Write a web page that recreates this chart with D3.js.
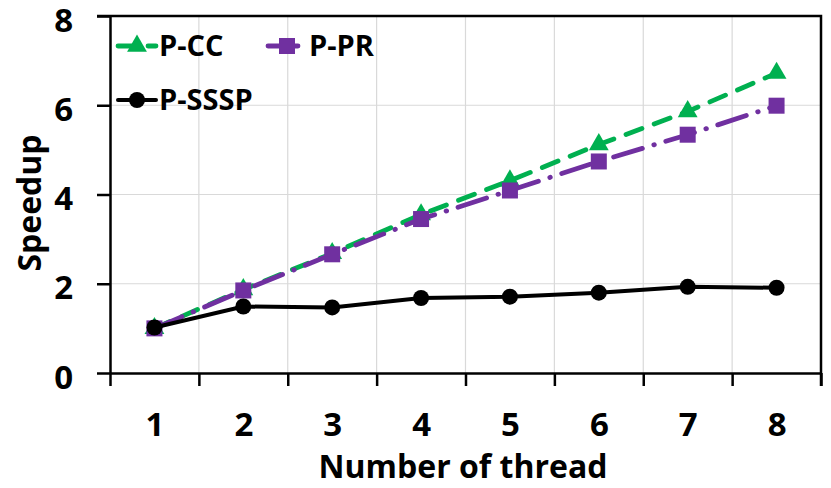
<!DOCTYPE html>
<html>
<head>
<meta charset="utf-8">
<script src="https://cdn.jsdelivr.net/npm/d3@7/dist/d3.min.js"></script>
<style>
  body { margin: 0; background: #fff; }
  svg text { font-family: "Open Sans", Lato, sans-serif; font-weight: bold; fill: #000; }
</style>
</head>
<body>
<div id="chart"></div>
<script>
// values
const threads = [1, 2, 3, 4, 5, 6, 7, 8];
const ccSpeedup = [1.0, 1.87, 2.68, 3.55, 4.31, 5.12, 5.86, 6.72];
const prSpeedup = [1.0, 1.85, 2.66, 3.45, 4.09, 4.74, 5.34, 5.99];
const ssspSpeedup = [1.02, 1.49, 1.47, 1.68, 1.71, 1.80, 1.93, 1.91];
const yTicks = [0, 2, 4, 6, 8];
const seriesNames = ["P-CC", "P-PR", "P-SSSP"];

const width = 831, height = 488;
const margin = { top: 16, right: 10, bottom: 115, left: 110 };

const svg = d3.select("#chart").append("svg")
  .attr("width", width)
  .attr("height", height);

const x = d3.scaleLinear()
  .domain([0.5, 8.5])
  .range([margin.left, width - margin.right]);
const y = d3.scaleLinear()
  .domain([0, 8])
  .range([height - margin.bottom, margin.top]);

const edges = d3.range(0.5, 9, 1);

// grid
svg.append("g")
  .selectAll("line")
  .data(edges.slice(1, -1))
  .join("line")
  .attr("x1", d => x(d)).attr("x2", d => x(d))
  .attr("y1", y(0)).attr("y2", y(8))
  .attr("stroke", "#d9d9d9").attr("stroke-width", 1.2);
svg.append("g")
  .selectAll("line")
  .data(yTicks.slice(1, -1))
  .join("line")
  .attr("x1", x(0.5)).attr("x2", x(8.5))
  .attr("y1", d => y(d)).attr("y2", d => y(d))
  .attr("stroke", "#d9d9d9").attr("stroke-width", 1.2);

// frame top/right
svg.append("path")
  .attr("d", `M${x(0.5) - 13},${y(8)}H${x(8.5)}V${y(0) + 13}`)
  .attr("fill", "none").attr("stroke", "#000").attr("stroke-width", 2.5);

// y axis
const yAxis = svg.append("g")
  .attr("transform", `translate(${x(0.5)},0)`)
  .call(d3.axisLeft(y).tickValues(yTicks).tickSize(13).tickPadding(24).tickSizeOuter(0));
yAxis.select(".domain").attr("stroke-width", 2.5);
yAxis.selectAll(".tick line").attr("stroke-width", 2.5);
yAxis.selectAll("text").style("font-size", "33px").attr("dy", "0.46em");

// x axis: ticks at category edges, labels at centres
const xAxis = svg.append("g")
  .attr("transform", `translate(0,${y(0)})`)
  .call(d3.axisBottom(x).tickValues(edges).tickSize(13).tickFormat("").tickSizeOuter(0));
xAxis.select(".domain").attr("stroke-width", 2.5);
xAxis.selectAll(".tick line").attr("stroke-width", 2.5);

const xLabels = svg.append("g")
  .attr("transform", `translate(0,${y(0)})`)
  .call(d3.axisBottom(x).tickValues(threads).tickSize(0).tickPadding(40));
xLabels.select(".domain").remove();
xLabels.selectAll("text").style("font-size", "33px");

// axis titles
svg.append("text")
  .attr("x", 463).attr("y", 478)
  .attr("text-anchor", "middle")
  .style("font-size", "32px")
  .text("Number of thread");
svg.append("text")
  .attr("transform", "translate(41,203) rotate(-90)")
  .attr("text-anchor", "middle")
  .style("font-size", "32px")
  .text("Speedup");

const series = [
  { name: seriesNames[0], values: ccSpeedup, color: "#00B050", dash: "17,13", width: 4.8, marker: "triangle" },
  { name: seriesNames[1], values: prSpeedup, color: "#7030A0", dash: "30,12,0.5,12", width: 4.8, marker: "square" },
  { name: seriesNames[2], values: ssspSpeedup, color: "#000000", dash: null, width: 4, marker: "circle" }
];

const line = d3.line()
  .x((d, i) => x(threads[i]))
  .y(d => y(d));

function drawMarker(g, kind, color, cx, cy) {
  if (kind === "circle") {
    g.append("circle").attr("cx", cx).attr("cy", cy).attr("r", 8).attr("fill", color);
  } else if (kind === "square") {
    g.append("rect").attr("x", cx - 8).attr("y", cy - 8).attr("width", 16).attr("height", 16).attr("fill", color);
  } else {
    g.append("path")
      .attr("d", d3.symbol(d3.symbolTriangle, 170)())
      .attr("transform", `translate(${cx},${cy})`)
      .attr("fill", color);
  }
}

series.forEach(s => {
  const g = svg.append("g");
  g.append("path")
    .datum(s.values)
    .attr("d", line)
    .attr("fill", "none")
    .attr("stroke", s.color)
    .attr("stroke-width", s.width)
    .attr("stroke-linecap", "round")
    .attr("stroke-dasharray", s.dash);
  s.values.forEach((v, i) => drawMarker(g, s.marker, s.color, x(threads[i]), y(v)));
});

// legend
const legendPos = [[118, 46], [268, 46], [118, 100]];
series.forEach((s, i) => {
  const [lx, ly] = legendPos[i];
  const g = svg.append("g");
  g.append("line")
    .attr("x1", lx).attr("x2", lx + 38)
    .attr("y1", ly).attr("y2", ly)
    .attr("stroke", s.color).attr("stroke-width", s.width)
    .attr("stroke-linecap", "round")
    .attr("stroke-dasharray", s.dash ? s.dash : null);
  drawMarker(g, s.marker, s.color, lx + 19, ly);
  g.append("text")
    .attr("x", lx + 41).attr("y", ly)
    .attr("dy", "0.36em")
    .style("font-size", "29px")
    .text(s.name);
});
</script>
</body>
</html>
